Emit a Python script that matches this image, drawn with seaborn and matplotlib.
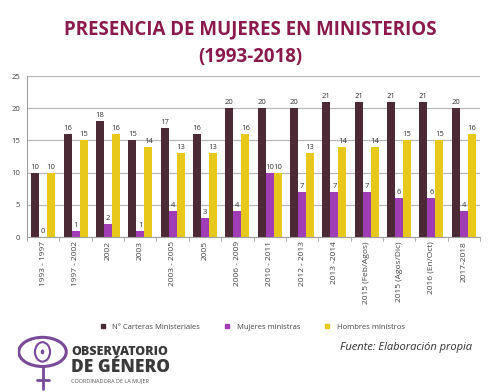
import matplotlib
matplotlib.use("Agg")
import matplotlib.pyplot as plt
import seaborn as sns
import pandas as pd
from matplotlib.patches import Ellipse, Circle
from matplotlib.lines import Line2D

categories = ["1993 - 1997", "1997 - 2002", "2002", "2003", "2003 - 2005", "2005",
              "2006 - 2009", "2010 - 2011", "2012 - 2013", "2013 -2014",
              "2015 (Feb/Agos)", "2015 (Agos/Dic)", "2016 (En/Oct)", "2017-2018"]
carteras = [10, 16, 18, 15, 17, 16, 20, 20, 20, 21, 21, 21, 21, 20]
mujeres = [0, 1, 2, 1, 4, 3, 4, 10, 7, 7, 7, 6, 6, 4]
hombres = [10, 15, 16, 14, 13, 13, 16, 10, 13, 14, 14, 15, 15, 16]
series_names = ["N° Carteras Ministeriales", "Mujeres ministras", "Hombres ministros"]
colors = ["#4b2a35", "#a03cb4", "#e8c81a"]

rows = []
for name, vals in zip(series_names, [carteras, mujeres, hombres]):
    for c, v in zip(categories, vals):
        rows.append({"periodo": c, "serie": name, "valor": v})
df = pd.DataFrame(rows)

sns.set_theme(style="white")
plt.rcParams['font.family'] = ['Open Sans', 'DejaVu Sans']

fig = plt.figure(figsize=(5, 3.92), dpi=100)
ax = fig.add_axes([0.054, 0.395, 0.906, 0.411])

sns.barplot(data=df, x="periodo", y="valor", hue="serie", palette=colors,
            order=categories, hue_order=series_names, width=0.74,
            saturation=1, ax=ax, legend=False, linewidth=0)

for cont in ax.containers:
    ax.bar_label(cont, fontsize=5.5, padding=1.5, color="#333333")

ax.set_ylim(0, 25)
ax.set_yticks([0, 5, 10, 15, 20, 25])
ax.yaxis.grid(True, color="#b8b8b8", linewidth=0.9)
ax.set_axisbelow(True)
ax.set_xlim(-0.5, len(categories) - 0.5)
ax.set_xlabel("")
ax.set_ylabel("")
ax.tick_params(axis="y", labelsize=5.5, colors="#444444", length=3, pad=2, width=0.6)
ax.tick_params(axis="x", labelsize=6, colors="#444444", length=0, pad=3)
plt.setp(ax.get_xticklabels(), rotation=90)
for s in ["top", "right"]:
    ax.spines[s].set_visible(False)
for s in ["left", "bottom"]:
    ax.spines[s].set_color("#a0a0a0")
    ax.spines[s].set_linewidth(0.8)
for b in range(len(categories) + 1):
    ax.plot([b - 0.5, b - 0.5], [0, -0.6], color="#a0a0a0", lw=0.6, clip_on=False)

fig.text(0.5, 0.925, "PRESENCIA DE MUJERES EN MINISTERIOS", ha="center", va="center",
         fontsize=13.5, fontweight="bold", color="#8a1a4b")
fig.text(0.5, 0.855, "(1993-2018)", ha="center", va="center",
         fontsize=13.5, fontweight="bold", color="#8a1a4b")

handles = [Line2D([0], [0], marker="s", linestyle="", markersize=3.5,
                  markerfacecolor=c, markeredgecolor=c) for c in colors]
fig.legend(handles, series_names, loc="center", bbox_to_anchor=(0.5, 0.165),
           ncol=3, frameon=False, fontsize=5.5, handletextpad=0.3,
           columnspacing=2.5, labelcolor="#444444")

fig.text(0.945, 0.113, "Fuente: Elaboración propia", ha="right", va="center",
         fontsize=8, style="italic", color="#333333")

# logo
lax = fig.add_axes([0.035, 0.0, 0.1, 0.165])
lax.set_xlim(0, 1)
lax.set_ylim(0, 1)
lax.axis("off")
lax.add_patch(Ellipse((0.5, 0.62), 0.95, 0.45, fill=False, ec="#7a4a9a", lw=2.2))
lax.add_patch(Circle((0.5, 0.62), 0.15, fill=False, ec="#7a4a9a", lw=1.5))
lax.add_patch(Circle((0.5, 0.62), 0.05, fill=True, fc="#7a4a9a"))
lax.plot([0.5, 0.5], [0.4, 0.04], color="#7a4a9a", lw=2)
lax.plot([0.38, 0.62], [0.18, 0.18], color="#7a4a9a", lw=2)
fig.text(0.142, 0.103, "OBSERVATORIO", fontsize=9, fontweight="heavy", color="#3a3a3a", va="center")
fig.text(0.142, 0.062, "DE GÉNERO", fontsize=12.5, fontweight="heavy", color="#3a3a3a", va="center")
fig.text(0.142, 0.028, "COORDINADORA DE LA MUJER", fontsize=4, color="#555555", va="center")

fig.savefig("out.png", dpi=100, facecolor="white")
